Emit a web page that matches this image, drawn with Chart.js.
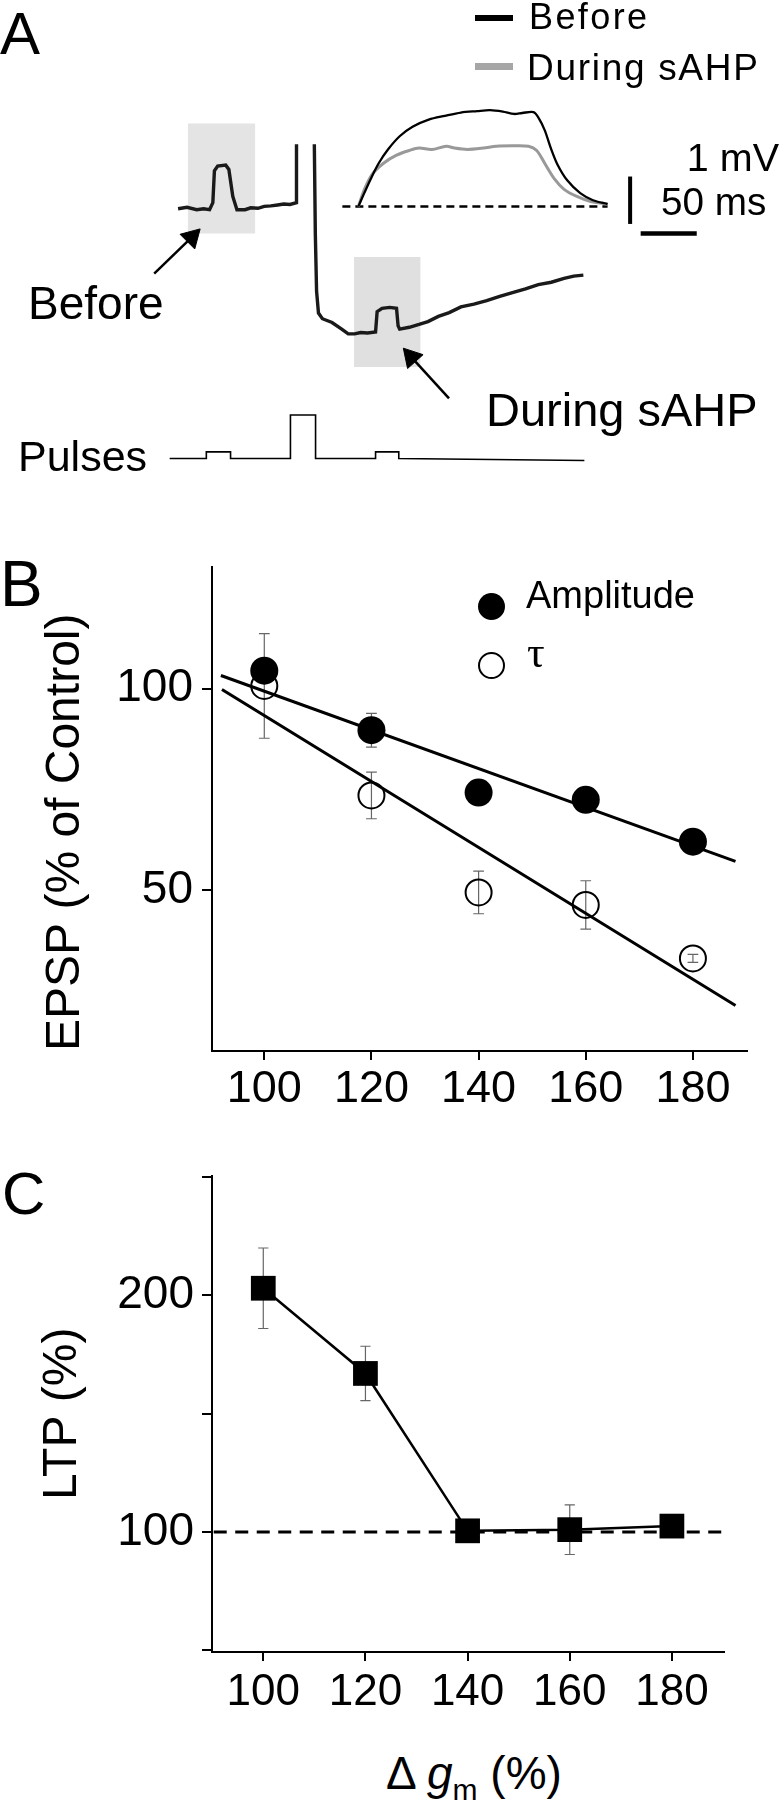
<!DOCTYPE html>
<html><head><meta charset="utf-8">
<script src="https://cdn.jsdelivr.net/npm/chart.js@4.4.1/dist/chart.umd.min.js"></script>
<style>
html,body{margin:0;padding:0;background:#fff;}
#fig{position:relative;width:782px;height:1800px;overflow:hidden;font-family:"Liberation Sans",Arial,Helvetica,sans-serif;color:#000;}
canvas{position:absolute;left:0;}
.t{position:absolute;line-height:1;white-space:nowrap;}
.sw{position:absolute;}
</style></head><body><div id="fig">
<canvas id="cA" width="782" height="500" style="top:0;width:782px;height:500px"></canvas>
<canvas id="cB" width="782" height="600" style="top:530px;width:782px;height:600px"></canvas>
<canvas id="cC" width="782" height="600" style="top:1140px;width:782px;height:600px"></canvas>

<div class="t" style="left:0;top:4.2px;font-size:60px">A</div>
<div class="sw" style="left:475px;top:15px;width:38px;height:6px;background:#000"></div>
<div class="sw" style="left:475px;top:62.5px;width:38px;height:7px;background:#a6a6a6"></div>
<div class="t" style="left:529px;top:-1.2px;font-size:36px;letter-spacing:2.4px">Before</div>
<div class="t" style="left:527px;top:48.7px;font-size:37px;letter-spacing:1.7px">During sAHP</div>
<div class="t" style="right:3px;top:138.3px;font-size:39.5px">1 mV</div>
<div class="t" style="left:661px;top:183.2px;font-size:38.7px">50 ms</div>
<div class="t" style="left:28px;top:280.1px;font-size:46px">Before</div>
<div class="t" style="left:486px;top:386.2px;font-size:47px">During sAHP</div>
<div class="t" style="left:18px;top:434.6px;font-size:43px">Pulses</div>

<div class="t" style="left:0;top:551.8px;font-size:64px">B</div>
<div class="sw" style="left:477.5px;top:592.5px;width:27px;height:27px;border-radius:50%;background:#000"></div>
<div class="sw" style="left:477.5px;top:652.2px;width:27px;height:27px;border-radius:50%;border:2px solid #000;box-sizing:border-box"></div>
<div class="t" style="left:526px;top:575.8px;font-size:38px">Amplitude</div>
<div class="t" style="left:527px;top:631px;font-size:44px;font-family:'Liberation Serif','Times New Roman',serif">τ</div>

<div class="t" style="left:2px;top:1164.2px;font-size:60px">C</div>
<div class="t" style="left:386px;top:1749.6px;font-size:46px">Δ <i>g</i><span style="font-size:30px;position:relative;top:11px">m</span> (%)</div>
</div>
<script>
// ---------- Panel A: membrane potential traces (time in ms, voltage in mV re. baseline) ----------
const preT  = [147.2,155.2,163.8,170.0,175.3,178.2,179.6,182.5,189.7,192.5,196.0,199.7,206.9,212.0,218.4,224.0,229.9,236.0,241.4,247.0,252.8,252.8];
const preV  = [-0.05,-0.02,-0.07,-0.05,-0.07,0.08,0.75,0.85,0.87,0.78,0.21,-0.07,-0.07,-0.03,-0.04,0.00,0.01,0.03,0.05,0.04,0.08,1.31];
const postT = [268.7,269.6,270.7,272.4,275.9,284.5,293.1,298.9,304.6,310.0,316.1,323.3,324.7,329.1,336.0,342.0,343.4,344.8,353.4,362.1,370.0,379.3,389.0,399.4,411.0,422.4,434.0,445.4,457.0,468.4,480.0,491.4,500.0,508.6];
const postV = [1.31,-0.59,-1.79,-2.25,-2.37,-2.45,-2.59,-2.69,-2.69,-2.66,-2.67,-2.65,-2.22,-2.15,-2.13,-2.15,-2.52,-2.59,-2.55,-2.49,-2.43,-2.32,-2.24,-2.12,-2.06,-1.99,-1.90,-1.82,-1.74,-1.65,-1.60,-1.52,-1.47,-1.45];
const beforeT = [308.0,313.2,319.0,326.1,334.7,344.8,356.3,370.7,385.1,399.4,413.8,425.3,436.8,446.8,454.1,464.1,468.4,474.1,479.9,485.6,494.2,505.8,517.2,530.2];
const beforeV = [0,0.28,0.58,0.91,1.21,1.48,1.68,1.83,1.91,1.98,2.01,2.03,2.00,1.95,1.97,1.99,1.88,1.61,1.21,0.88,0.55,0.28,0.13,0.05];
const sahpT = [308.0,313.2,320.4,330.4,342.0,353.4,362.1,373.5,386.5,393.7,405.2,419.6,431.0,445.4,459.7,467.0,474.1,482.8,491.4,502.8,514.4,530.2];
const sahpV = [0,0.35,0.68,0.91,1.08,1.18,1.23,1.20,1.27,1.23,1.20,1.23,1.27,1.28,1.27,1.18,0.91,0.58,0.36,0.21,0.11,0.05];
const baseT = [293.7,530.2];
const baseV = [0,0];
const pulseT = [139.7,172.4,172.4,194.0,194.0,247.4,247.4,269.8,269.8,323.3,323.3,344.0,344.0,509.5];
const pulseV = [-5.32,-5.32,-5.18,-5.18,-5.32,-5.32,-4.40,-4.40,-5.32,-5.32,-5.18,-5.18,-5.32,-5.36];
const box1T = [155.8,216.1]; const box1V = [1.75,-0.57];
const box2T = [304.1,363.5]; const box2V = [-1.07,-3.39];
const scaleBarMs = 50, scaleBarMv = 1;
const vBarAt = [550.3, -0.37];   // start of 1 mV bar (t, v)
const hBarAt = [559.7, -0.57];   // start of 50 ms bar (t, v)
const arrow1 = [[125.9,-1.42],[159.3,-0.654]];
const arrow2 = [[388.8,-4.05],[355.2,-3.18]];

// ---------- Panel B ----------
const gm = [100,120,140,160,180];
const amp = [104.5,89.7,74.2,72.4,62.0];
const ampErr = [0,4.2,0,0,0];
const tau = [100.7,73.5,49.4,46.3,33.0];
const tauErr = [13,5.8,5.3,6.0,1.0];
const ampFitX = [91.9,187.95], ampFitY = [103.3,57.1];
const tauFitX = [92.1,187.95], tauFitY = [99.8,21.3];
const xTicks = [100,120,140,160,180];
const yTicksB = [50,100];

// ---------- Panel C ----------
const ltp = [203,167,100.5,101,102.5];
const ltpErr = [17,11.5,0,10.5,0];
const yTicksC = [50,100,150,200,250];
const yLabelsC = [100,200];
const refLevel = 100;

const FONT = "'Liberation Sans', Arial, Helvetica, sans-serif";
Chart.defaults.font.family = FONT;
Chart.defaults.color = '#000';

const pts = (xs, ys) => xs.map((x,i)=>({x, y: ys[i]}));
function errSegs(xs, ys, es, cap){
  const out=[];
  xs.forEach((x,i)=>{ if(!es[i]) return;
    const lo=ys[i]-es[i], hi=ys[i]+es[i];
    out.push({x,y:lo},{x,y:hi},{x,y:null},{x:x-cap,y:hi},{x:x+cap,y:hi},{x,y:null},{x:x-cap,y:lo},{x:x+cap,y:lo},{x,y:null});
  });
  return out;
}
const line = (data, o) => Object.assign({data, showLine:true, pointRadius:0, borderColor:'#000', borderWidth:2, tension:0, spanGaps:false, clip:false}, o);
const baseOpts = {responsive:false, animation:false, devicePixelRatio:1, events:[],
  plugins:{legend:{display:false}, tooltip:{enabled:false}}};

// Panel A chart
new Chart(document.getElementById('cA'), {
  type:'scatter',
  data:{datasets:[
    line(pts(box1T,[box1V[0],box1V[0]]), {borderWidth:0, fill:{value:box1V[1]}, backgroundColor:'#e4e4e4', order:10}),
    line(pts(box2T,[box2V[0],box2V[0]]), {borderWidth:0, fill:{value:box2V[1]}, backgroundColor:'#e0e0e0', order:10}),
    line(pts(preT,preV), {borderColor:'#1a1a1a', borderWidth:3.4, order:5}),
    line(pts(postT,postV), {borderColor:'#1a1a1a', borderWidth:3.4, order:5}),
    line(pts(baseT,baseV), {borderWidth:2.5, borderDash:[8,5], order:6}),
    line(pts(sahpT,sahpV), {borderColor:'#999', borderWidth:3, tension:0.3, order:4}),
    line(pts(beforeT,beforeV), {borderWidth:2.3, tension:0.3, order:3}),
    line(pts(pulseT,pulseV), {borderWidth:1.6, order:3}),
    line([{x:vBarAt[0],y:vBarAt[1]},{x:vBarAt[0],y:vBarAt[1]+scaleBarMv}], {borderWidth:4}),
    line([{x:hBarAt[0],y:hBarAt[1]},{x:hBarAt[0]+scaleBarMs,y:hBarAt[1]}], {borderWidth:4.5}),
    line(arrow1.map(a=>({x:a[0],y:a[1]})), {borderWidth:2.5, pointRadius:[0,12], pointStyle:'triangle', pointRotation:[0,45], backgroundColor:'#000', pointBorderWidth:1}),
    line(arrow2.map(a=>({x:a[0],y:a[1]})), {borderWidth:2.5, pointRadius:[0,12], pointStyle:'triangle', pointRotation:[0,-41.8], backgroundColor:'#000', pointBorderWidth:1})
  ]},
  options:Object.assign({}, baseOpts, {
    layout:{padding:0},
    scales:{
      x:{type:'linear', display:false, min:0, max:674.14},
      y:{type:'linear', display:false, min:-5.92, max:4.08}
    }
  })
});

function axisCommon(){
  return {
    grid:{display:true, drawOnChartArea:false, drawTicks:true, tickLength:9, color:'#000', lineWidth:2},
    border:{display:true, color:'#000', width:2}
  };
}

// Panel B chart
new Chart(document.getElementById('cB'), {
  type:'scatter',
  data:{datasets:[
    line(pts(gm,amp), {showLine:false, pointRadius:14, pointBackgroundColor:'#000', pointBorderWidth:0, order:0}),
    line(pts(gm,tau), {showLine:false, pointRadius:13, pointBackgroundColor:'rgba(255,255,255,0)', pointBorderColor:'#000', pointBorderWidth:2, order:0}),
    line(pts(ampFitX,ampFitY), {borderWidth:3, order:1}),
    line(pts(tauFitX,tauFitY), {borderWidth:3, order:1}),
    line(errSegs(gm,amp,ampErr,1.0), {borderWidth:1.2, borderColor:'#666', order:2}),
    line(errSegs(gm,tau,tauErr,1.0), {borderWidth:1.2, borderColor:'#666', order:2})
  ]},
  options:Object.assign({}, baseOpts, {
    layout:{padding:{top:35, right:35.5, left:0, bottom:0}},
    scales:{
      x:Object.assign(axisCommon(), {type:'linear', min:90.24, max:190, bounds:'data',
        afterBuildTicks:s=>{s.ticks = xTicks.map(v=>({value:v}));},
        afterFit:s=>{s.height=79;},
        ticks:{font:{size:45}, color:'#000', padding:3, maxRotation:0, autoSkip:false}}),
      y:Object.assign(axisCommon(), {type:'linear', min:10, max:130.35, bounds:'data',
        afterBuildTicks:s=>{s.ticks = yTicksB.map(v=>({value:v}));},
        afterFit:s=>{s.width=212;},
        grid:{display:true, drawOnChartArea:false, drawTicks:true, tickLength:10, color:'#000', lineWidth:2},
        ticks:{font:{size:46}, color:'#000', padding:9},
        title:{display:true, text:'EPSP (% of Control)', font:{size:48}, color:'#000', align:'start', padding:{top:37, bottom:0}}})
    }
  })
});

// Panel C chart
new Chart(document.getElementById('cC'), {
  type:'scatter',
  data:{datasets:[
    line(pts(gm,ltp), {borderWidth:2.5, pointRadius:17.5, pointStyle:'rect', pointBackgroundColor:'#000', pointBorderWidth:0, order:0}),
    line(errSegs(gm,ltp,ltpErr,1.0), {borderWidth:1.2, borderColor:'#666', order:2}),
    line([{x:90.3,y:refLevel},{x:190.2,y:refLevel}], {borderWidth:3, borderDash:[13,8.5], order:3})
  ]},
  options:Object.assign({}, baseOpts, {
    layout:{padding:{top:35, right:58, left:0, bottom:0}},
    scales:{
      x:Object.assign(axisCommon(), {type:'linear', min:89.96, max:190.2, bounds:'data',
        afterBuildTicks:s=>{s.ticks = xTicks.map(v=>({value:v}));},
        afterFit:s=>{s.height=88;},
        ticks:{font:{size:44}, color:'#000', padding:5, maxRotation:0, autoSkip:false}}),
      y:Object.assign(axisCommon(), {type:'linear', min:49.3, max:250.6, bounds:'data',
        afterBuildTicks:s=>{s.ticks = yTicksC.map(v=>({value:v}));},
        afterFit:s=>{s.width=212;},
        grid:{display:true, drawOnChartArea:false, drawTicks:true, tickLength:10, color:'#000', lineWidth:2},
        ticks:{font:{size:46}, color:'#000', padding:8, callback:v=> yLabelsC.includes(v) ? String(v) : ''},
        title:{display:true, text:'LTP (%)', font:{size:48}, color:'#000', align:'center', padding:{top:34, bottom:0}}})
    }
  })
});
</script>
</body></html>
